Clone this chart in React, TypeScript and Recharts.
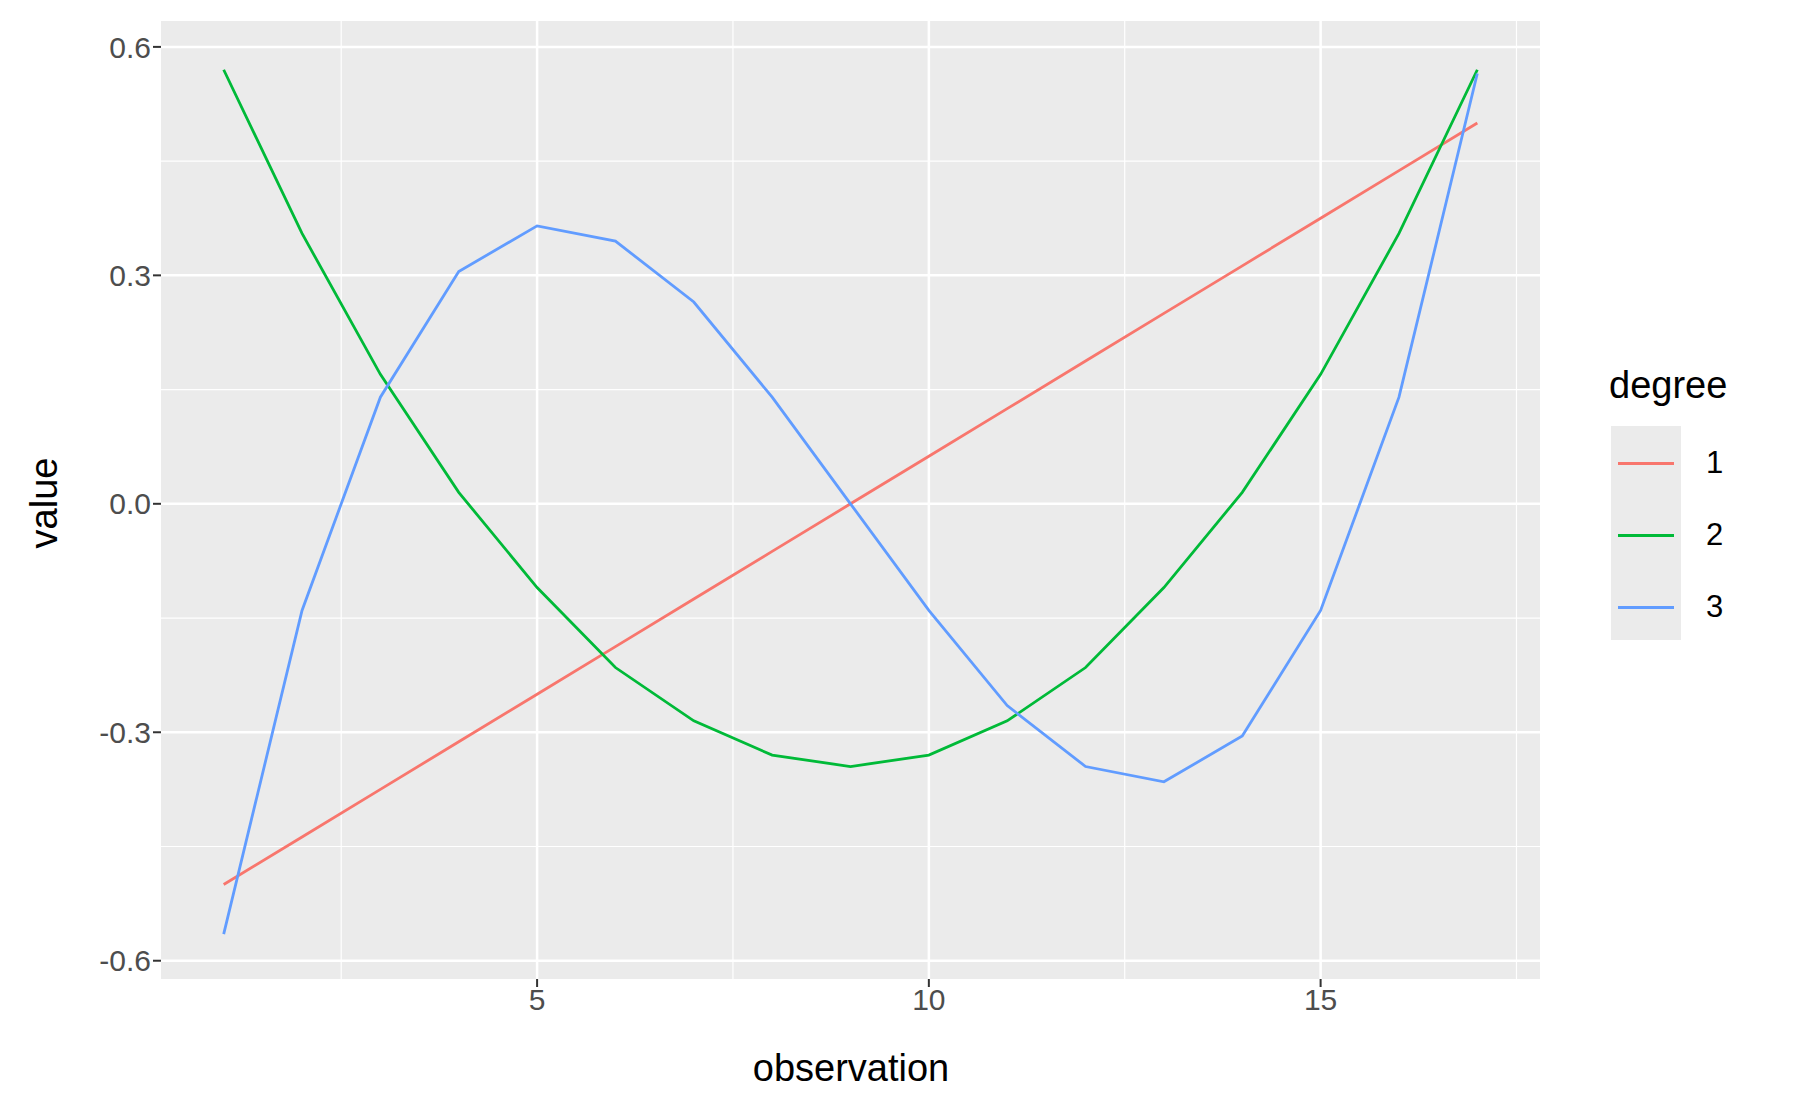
import { LineChart, Line, XAxis, YAxis, ReferenceLine, ReferenceArea } from "recharts";

const observations = [1, 2, 3, 4, 5, 6, 7, 8, 9, 10, 11, 12, 13, 14, 15, 16, 17];
const degree1 = [-0.5, -0.4375, -0.375, -0.3125, -0.25, -0.1875, -0.125, -0.0625, 0, 0.0625, 0.125, 0.1875, 0.25, 0.3125, 0.375, 0.4375, 0.5];
const degree2 = [0.57, 0.355, 0.17, 0.015, -0.11, -0.215, -0.285, -0.33, -0.345, -0.33, -0.285, -0.215, -0.11, 0.015, 0.17, 0.355, 0.57];
const degree3 = [-0.565, -0.14, 0.14, 0.305, 0.365, 0.345, 0.265, 0.14, 0, -0.14, -0.265, -0.345, -0.365, -0.305, -0.14, 0.14, 0.565];
const xTicks = [5, 10, 15];
const xMinor = [2.5, 7.5, 12.5, 17.5];
const yTicks = [-0.6, -0.3, 0, 0.3, 0.6];
const yMinor = [-0.45, -0.15, 0.15, 0.45];
const series = [
  { key: "d1", name: "1", color: "#F8766D" },
  { key: "d2", name: "2", color: "#00BA38" },
  { key: "d3", name: "3", color: "#619CFF" },
];

const data = observations.map((x, i) => ({ x, d1: degree1[i], d2: degree2[i], d3: degree3[i] }));

const X_DOM = [0.2, 17.8];
const Y_DOM = [-0.624, 0.634];
const tickStyle = { fontSize: 30, fill: "#4D4D4D" };

export default function App() {
  return (
    <div style={{ position: "absolute", left: 0, top: 0, width: 1800, height: 1112, background: "#fff", fontFamily: "'Liberation Sans', Arial, sans-serif" }}>
      <LineChart width={1800} height={1112} data={data} margin={{ top: 21, right: 260, bottom: 83, left: 81 }}>
        <XAxis dataKey="x" type="number" domain={X_DOM} ticks={xTicks} allowDataOverflow height={50}
          axisLine={false} tickLine={{ stroke: "#333", strokeWidth: 2 }} tickSize={8} tick={tickStyle} />
        <YAxis type="number" domain={Y_DOM} ticks={yTicks} allowDataOverflow width={80}
          axisLine={false} tickLine={{ stroke: "#333", strokeWidth: 2 }} tickSize={8} tick={tickStyle}
          tickFormatter={(v: number) => v.toFixed(1)} />
        <ReferenceArea x1={X_DOM[0]} x2={X_DOM[1]} y1={Y_DOM[0]} y2={Y_DOM[1]} fill="#EBEBEB" fillOpacity={1} stroke="none" ifOverflow="hidden" />
        {xMinor.map((v) => <ReferenceLine key={"xm" + v} x={v} stroke="#fff" strokeWidth={1.2} />)}
        {yMinor.map((v) => <ReferenceLine key={"ym" + v} y={v} stroke="#fff" strokeWidth={1.2} />)}
        {xTicks.map((v) => <ReferenceLine key={"x" + v} x={v} stroke="#fff" strokeWidth={2.5} />)}
        {yTicks.map((v) => <ReferenceLine key={"y" + v} y={v} stroke="#fff" strokeWidth={2.5} />)}
        {series.map((s) => (
          <Line key={s.key} dataKey={s.key} type="linear" stroke={s.color} strokeWidth={2.8} dot={false} isAnimationActive={false} />
        ))}
      </LineChart>
      <div style={{ position: "absolute", left: 851, top: 1068, transform: "translate(-50%,-50%)", fontSize: 38, color: "#000" }}>observation</div>
      <div style={{ position: "absolute", left: 44, top: 503, transform: "translate(-50%,-50%) rotate(-90deg)", fontSize: 38, color: "#000" }}>value</div>
      <div style={{ position: "absolute", left: 1609, top: 385, transform: "translateY(-50%)", fontSize: 38, color: "#000" }}>degree</div>
      <div style={{ position: "absolute", left: 1611, top: 426, width: 70, height: 214, background: "#EBEBEB" }} />
      {series.map((s, i) => (
        <div key={s.key}>
          <div style={{ position: "absolute", left: 1618, top: 462 + i * 72, width: 56, height: 3, background: s.color }} />
          <div style={{ position: "absolute", left: 1706, top: 463 + i * 72, transform: "translateY(-50%)", fontSize: 31, color: "#000" }}>{s.name}</div>
        </div>
      ))}
    </div>
  );
}
